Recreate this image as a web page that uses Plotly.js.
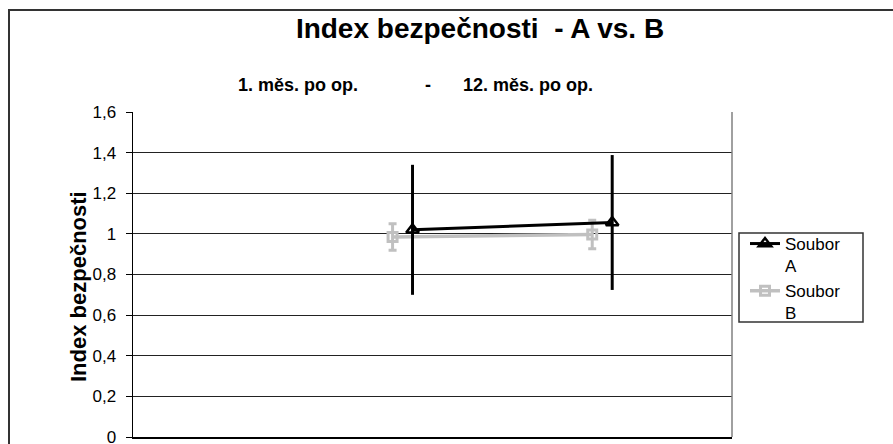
<!DOCTYPE html>
<html>
<head>
<meta charset="utf-8">
<script src="https://cdn.plot.ly/plotly-3.0.1.min.js"></script>
<style>html,body{margin:0;padding:0;background:#fff;}#chart{width:893px;height:444px;}</style>
</head>
<body>
<div id="chart"></div>
<script>
// ---- data ----
var seriesNames = ['Soubor<br>A', 'Soubor<br>B'];
var xA = [1.4, 2.4];
var valuesA = [1.02, 1.056];
var errA = [0.32, 0.332];
var xB = [1.3, 2.3];
var valuesB = [0.985, 0.997];
var errB = [0.065, 0.07];
var periodLabels = ['1. měs. po op.', '-', '12. měs. po op.'];
var periodPos = [0.824, 1.477, 1.976];   // x positions (axis units) of the period labels
var titleText = 'Index bezpečnosti  - A vs. B';
var yTitleText = 'Index bezpečnosti';

// ---- layout helpers (pixels -> paper) ----
var W = 893, H = 444, L = 133, R = 161, T = 112, B = 7;
var pw = W - L - R, ph = H - T - B;
function px(x) { return (x - L) / pw; }
function py(y) { return (H - B - y) / ph; }
var font = 'Liberation Sans, Arial, sans-serif';

var traceB = {
  x: xB, y: valuesB, name: seriesNames[1], type: 'scatter', mode: 'lines+markers',
  line: {color: '#c0c0c0', width: 3.5},
  marker: {symbol: 'square-open', size: 9, color: '#c0c0c0', line: {width: 3, color: '#c0c0c0'}},
  error_y: {type: 'data', array: errB, visible: true, color: '#c0c0c0', thickness: 3, width: 4}
};
var traceA = {
  x: xA, y: valuesA, name: seriesNames[0], type: 'scatter', mode: 'lines+markers',
  line: {color: '#000', width: 3},
  marker: {symbol: 'triangle-up-open', size: 11, color: '#000', line: {width: 2.5, color: '#000'}},
  error_y: {type: 'data', array: errA, visible: true, color: '#000', thickness: 3, width: 0}
};

var annotations = periodLabels.map(function (t, i) {
  return {text: t, x: periodPos[i], xref: 'x', y: py(85), yref: 'paper',
    showarrow: false, xanchor: 'center', yanchor: 'middle',
    font: {family: font, size: 18, color: '#000', weight: 'bold'}};
});
annotations.push({text: yTitleText, textangle: -90, x: px(78), xref: 'paper', y: py(287), yref: 'paper',
  showarrow: false, xanchor: 'center', yanchor: 'middle',
  font: {family: font, size: 22, color: '#000', weight: 'bold'}});

var layout = {
  width: W, height: H,
  margin: {l: L, r: R, t: T, b: B, pad: 0},
  paper_bgcolor: '#fff', plot_bgcolor: '#fff',
  font: {family: font, color: '#000'},
  title: {text: titleText, x: 480 / W, xref: 'container', xanchor: 'center',
    y: 1 - 28 / H, yref: 'container', yanchor: 'middle',
    font: {family: font, size: 28, color: '#000', weight: 'bold'}},
  xaxis: {range: [0, 3], showgrid: false, zeroline: false, showticklabels: false, ticks: '',
    showline: true, linecolor: '#000', linewidth: 1.5, fixedrange: true},
  yaxis: {range: [0, 1.6], dtick: 0.2, tick0: 0, showgrid: true, gridcolor: '#222', gridwidth: 1,
    zeroline: false, showline: true, linecolor: '#000', linewidth: 1.5,
    ticks: 'outside', ticklen: 6, tickcolor: '#000', tickwidth: 1,
    ticklabelstandoff: 6, ticklabeloverflow: 'allow', automargin: false,
    tickfont: {family: font, size: 17, color: '#000'}, fixedrange: true},
  separators: ', ',
  showlegend: true,
  legend: {x: px(745), y: py(226), xanchor: 'left', yanchor: 'top', xref: 'paper', yref: 'paper',
    bgcolor: 'rgba(0,0,0,0)', borderwidth: 0, traceorder: 'reversed', valign: 'top',
    font: {family: font, size: 17, color: '#000'}, tracegroupgap: 0},
  annotations: annotations,
  shapes: [
    {type: 'rect', xref: 'paper', yref: 'paper', x0: px(9), x1: px(910), y0: py(470), y1: py(10),
      line: {color: '#333', width: 2}, fillcolor: 'rgba(0,0,0,0)', layer: 'below'},
    {type: 'line', xref: 'paper', yref: 'paper', x0: 1, x1: 1, y0: 0, y1: 1,
      line: {color: '#808080', width: 1.5}},
    {type: 'rect', xref: 'paper', yref: 'paper', x0: px(739), x1: px(863), y0: py(322), y1: py(233),
      line: {color: '#333', width: 1.5}, fillcolor: '#fff', layer: 'below'}
  ]
};

Plotly.newPlot('chart', [traceB, traceA], layout, {displayModeBar: false, staticPlot: true});
</script>
</body>
</html>
